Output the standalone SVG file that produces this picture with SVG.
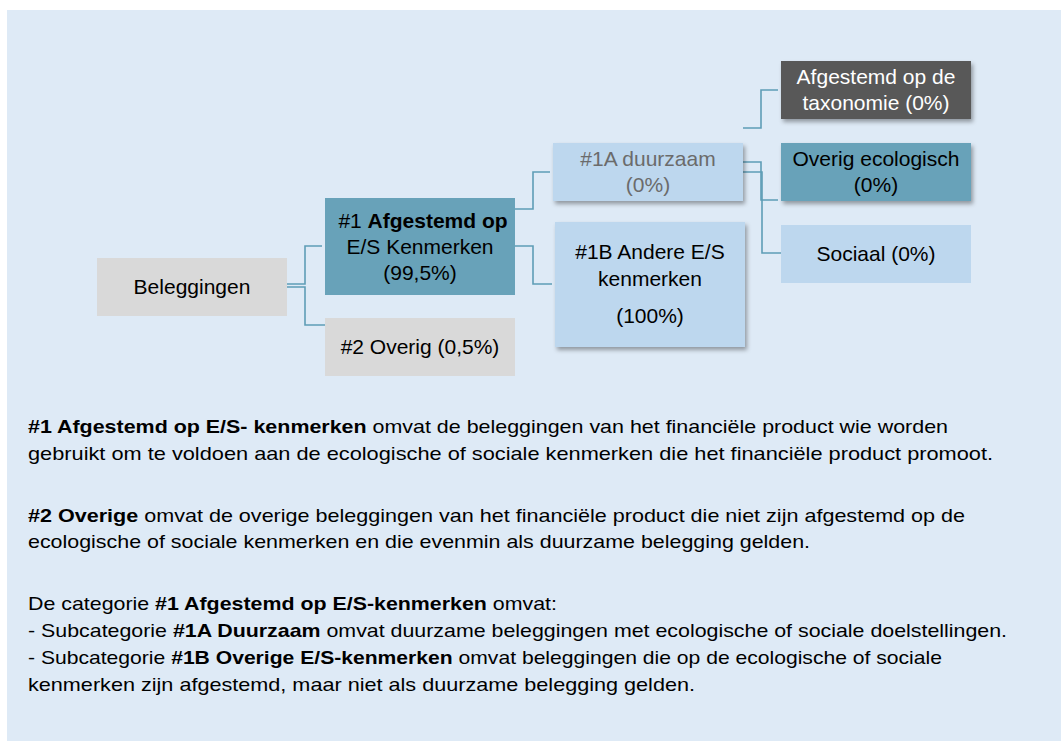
<svg xmlns="http://www.w3.org/2000/svg" width="1061" height="742" viewBox="0 0 1061 742">
<defs>
<filter id="sh" x="-10%" y="-20%" width="130%" height="150%">
<feDropShadow dx="2" dy="3" stdDeviation="2" flood-color="#000" flood-opacity="0.35"/>
</filter>
<style>
.t{font-family:"Liberation Sans",Arial,sans-serif;font-size:21px;text-anchor:middle;fill:#000}
.p{font-family:"Liberation Sans",Arial,sans-serif;font-size:18.5px;fill:#000}
.b{font-weight:bold}
.c{fill:none;stroke:#5E9DB6;stroke-width:1.6}
.gray{fill:#D9D9D9}
.teal{fill:#68A2B9}
.lb{fill:#BDD7EE}
.dk{fill:#595959}
</style>
</defs>
<rect x="7" y="10" width="1054" height="731" fill="#DEEAF6"/>
<g id="connectors">
<path class="c" d="M287,284 H305 V246 H322"/>
<path class="c" d="M287,287 H305 V325 H325"/>
<path class="c" d="M515,209 H533 V172 H550"/>
<path class="c" d="M515,246 H533 V284 H552"/>
<path class="c" d="M743,128 H761 V90 H778"/>
<path class="c" d="M743,162 H761 V200 H778"/>
<path class="c" d="M743,172 H762 V253 H781"/>
</g>
<g id="beleggingen">
<rect class="gray" x="97" y="258" width="190" height="58"/>
<text class="t" x="192" y="294">Beleggingen</text>
</g>
<g id="n1">
<rect class="teal" x="325" y="198" width="190" height="97"/>
<text class="t" x="423" y="228">#1 <tspan class="b">Afgestemd op</tspan></text>
<text class="t" x="420" y="254">E/S Kenmerken</text>
<text class="t" x="420" y="280">(99,5%)</text>
</g>
<g id="n2">
<rect class="gray" x="325" y="318" width="190" height="58"/>
<text class="t" x="420" y="354">#2 Overig (0,5%)</text>
</g>
<g id="n1a">
<rect class="lb" x="553" y="143" width="190" height="58" filter="url(#sh)"/>
<text class="t" x="648" y="166" style="fill:#6B6B6B">#1A duurzaam</text>
<text class="t" x="648" y="192" style="fill:#6B6B6B">(0%)</text>
</g>
<g id="n1b">
<rect class="lb" x="555" y="222" width="190" height="125" filter="url(#sh)"/>
<text class="t" x="650" y="259">#1B Andere E/S</text>
<text class="t" x="650" y="286">kenmerken</text>
<text class="t" x="650" y="323">(100%)</text>
</g>
<g id="taxonomie">
<rect class="dk" x="781" y="61" width="190" height="58" filter="url(#sh)"/>
<text class="t" x="876" y="84" style="fill:#fff">Afgestemd op de</text>
<text class="t" x="876" y="110" style="fill:#fff">taxonomie (0%)</text>
</g>
<g id="ecologisch">
<rect class="teal" x="781" y="143" width="190" height="58" filter="url(#sh)"/>
<text class="t" x="876" y="166">Overig ecologisch</text>
<text class="t" x="876" y="192">(0%)</text>
</g>
<g id="sociaal">
<rect class="lb" x="781" y="225" width="190" height="58"/>
<text class="t" x="876" y="261">Sociaal (0%)</text>
</g>
<g id="legend">
<text class="p" x="28" y="433" textLength="920" lengthAdjust="spacingAndGlyphs"><tspan class="b">#1 Afgestemd op E/S- kenmerken</tspan> omvat de beleggingen van het financiële product wie worden</text>
<text class="p" x="28" y="460" textLength="965" lengthAdjust="spacingAndGlyphs">gebruikt om te voldoen aan de ecologische of sociale kenmerken die het financiële product promoot.</text>
<text class="p" x="28" y="522" textLength="937" lengthAdjust="spacingAndGlyphs"><tspan class="b">#2 Overige</tspan> omvat de overige beleggingen van het financiële product die niet zijn afgestemd op de</text>
<text class="p" x="28" y="548" textLength="782" lengthAdjust="spacingAndGlyphs">ecologische of sociale kenmerken en die evenmin als duurzame belegging gelden.</text>
<text class="p" x="28" y="610" textLength="529" lengthAdjust="spacingAndGlyphs">De categorie <tspan class="b">#1 Afgestemd op E/S-kenmerken</tspan> omvat:</text>
<text class="p" x="28" y="637" textLength="979" lengthAdjust="spacingAndGlyphs">- Subcategorie <tspan class="b">#1A Duurzaam</tspan> omvat duurzame beleggingen met ecologische of sociale doelstellingen.</text>
<text class="p" x="28" y="664" textLength="914" lengthAdjust="spacingAndGlyphs">- Subcategorie <tspan class="b">#1B Overige E/S-kenmerken</tspan> omvat beleggingen die op de ecologische of sociale</text>
<text class="p" x="28" y="691" textLength="667" lengthAdjust="spacingAndGlyphs">kenmerken zijn afgestemd, maar niet als duurzame belegging gelden.</text>
</g>
</svg>
